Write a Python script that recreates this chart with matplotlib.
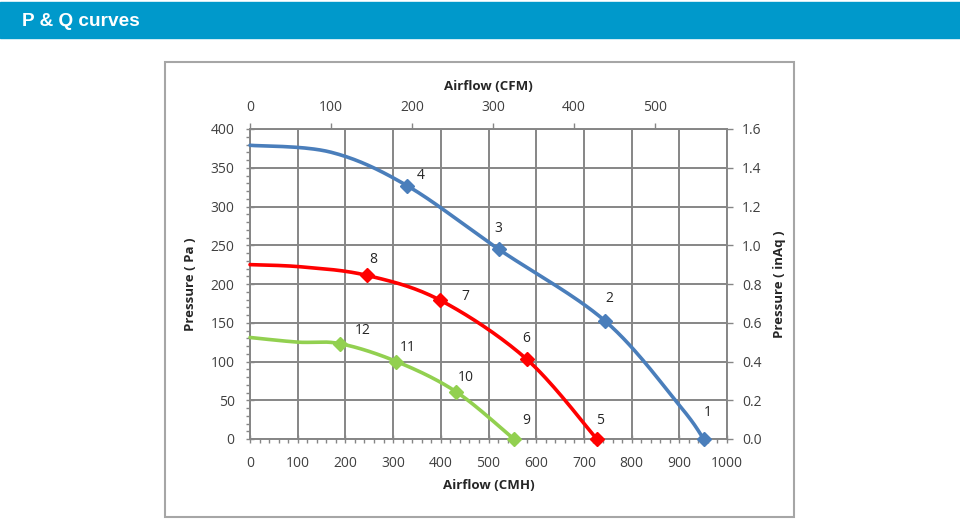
import numpy as np
import matplotlib.pyplot as plt
from matplotlib.patches import Rectangle
from matplotlib.ticker import MultipleLocator

# numbered operating points (CMH, Pa)
blue_x = [951, 745, 521, 329]
blue_y = [0, 152, 245, 327]
blue_num = ["1", "2", "3", "4"]
red_x = [727, 580, 399, 246]
red_y = [0, 103, 179, 211]
red_num = ["5", "6", "7", "8"]
green_x = [553, 432, 307, 189]
green_y = [0, 61, 100, 123]
green_num = ["9", "10", "11", "12"]

# traced curve points (CMH, Pa)
blue_line_x = [0, 170, 329, 521, 745, 902, 951]
blue_line_y = [379, 370, 327, 245, 152, 42, 0]
red_line_x = [0, 110, 246, 399, 580, 727]
red_line_y = [225, 222, 211, 179, 103, 0]
green_line_x = [0, 100, 189, 307, 432, 553]
green_line_y = [131, 125, 123, 100, 61, 0]

# label offsets in pixels (dx, dy)
blue_off = [(4, 27), (4, 23), (0, 21), (14, 10)]
red_off = [(3, 18), (0, 21), (25, 4), (6, 16)]
green_off = [(12, 19), (10, 14), (11, 14), (23, 13)]


def smooth(xs, ys, n=30):
    """catmull-rom through the traced points, close to excel's smoothed line"""
    p = np.column_stack([xs, ys]).astype(float)
    p = np.vstack([p[0], p, p[-1]])
    out = []
    for i in range(1, len(p) - 2):
        p0, p1, p2, p3 = p[i - 1], p[i], p[i + 1], p[i + 2]
        t = np.linspace(0, 1, n, endpoint=False)[:, None]
        c1 = p1 + (p2 - p0) / 6
        c2 = p2 - (p3 - p1) / 6
        b = ((1 - t) ** 3) * p1 + 3 * ((1 - t) ** 2) * t * c1 + 3 * (1 - t) * t ** 2 * c2 + t ** 3 * p2
        out.append(b)
    out.append(p[-2][None, :])
    out = np.vstack(out)
    return out[:, 0], out[:, 1]


plt.rcParams['font.family'] = ['Open Sans', 'DejaVu Sans']

W, H = 960, 528
fig = plt.figure(figsize=(W / 100, H / 100), dpi=100)

# header bar
fig.patches.append(Rectangle((0, 1 - 38 / H), 1, 36 / H, transform=fig.transFigure,
                             color='#0099cb', zorder=0))
fig.text(22 / W, 1 - 21 / H, "P & Q curves", color='white', fontsize=13.7, fontweight='bold',
         family='Liberation Sans', va='center', ha='left')
# chart frame
fig.patches.append(Rectangle((165 / W, 1 - 517 / H), 629 / W, 455 / H, transform=fig.transFigure,
                             fill=False, ec='#a6a6a6', lw=1.5, zorder=0))

ax = fig.add_axes([250 / W, 1 - 439 / H, 477 / W, 310 / H])
ax.set_xlim(0, 1000)
ax.set_ylim(0, 400)
ax.xaxis.set_major_locator(MultipleLocator(100))
ax.xaxis.set_minor_locator(MultipleLocator(20))
ax.yaxis.set_major_locator(MultipleLocator(50))
ax.yaxis.set_minor_locator(MultipleLocator(10))
ax.grid(True, which='major', color='#868686', lw=1.4)
ax.set_axisbelow(True)
for s in ax.spines.values():
    s.set_color('#868686')
    s.set_linewidth(1.4)
ax.tick_params(which='major', colors='#868686', labelcolor='#404040', labelsize=10,
               direction='inout', length=6, width=1)
ax.tick_params(which='minor', colors='#868686', direction='out', length=3, width=1)
ax.tick_params(axis='x', pad=9)
ax.tick_params(axis='y', pad=8)

series = [
    (blue_line_x, blue_line_y, blue_x, blue_y, blue_num, blue_off, '#4a7ebb'),
    (red_line_x, red_line_y, red_x, red_y, red_num, red_off, '#ff0000'),
    (green_line_x, green_line_y, green_x, green_y, green_num, green_off, '#92d050'),
]
for lx, ly, mx, my, nums, offs, col in series:
    sx, sy = smooth(lx, ly)
    ax.plot(sx, sy, color=col, lw=2.6, solid_capstyle='round', clip_on=False, zorder=3)
    ax.plot(mx, my, 'D', color=col, ms=7, clip_on=False, zorder=4)
    for x, y, s, (dx, dy) in zip(mx, my, nums, offs):
        ax.annotate(s, (x, y), xytext=(dx * 0.72, dy * 0.72), textcoords='offset points',
                    fontsize=10, color='#262626', ha='center', va='center')

ax.set_xlabel("Airflow (CMH)", fontsize=9.5, fontweight='bold', color='#262626', labelpad=6)
ax.set_ylabel("Pressure ( Pa )", fontsize=9.5, fontweight='bold', color='#262626', labelpad=10)

top = ax.secondary_xaxis('top', functions=(lambda v: v / 1.699, lambda v: v * 1.699))
top.set_xticks([0, 100, 200, 300, 400, 500])
top.spines['top'].set_visible(False)
top.tick_params(colors='#868686', labelcolor='#404040', labelsize=10, direction='out',
                length=4, width=1, pad=6)
top.set_xlabel("Airflow (CFM)", fontsize=9.5, fontweight='bold', color='#262626', labelpad=7)

right = ax.secondary_yaxis('right', functions=(lambda v: v / 250, lambda v: v * 250))
right.set_yticks([0, 0.2, 0.4, 0.6, 0.8, 1.0, 1.2, 1.4, 1.6])
right.yaxis.set_major_formatter(lambda v, pos: f"{v:.1f}")
right.spines['right'].set_visible(False)
right.tick_params(colors='#868686', labelcolor='#404040', labelsize=10, direction='out',
                  length=4, width=1, pad=7)
right.set_ylabel("Pressure ( inAq )", fontsize=9.5, fontweight='bold', color='#262626', labelpad=8)

fig.savefig("out.png", dpi=100)
